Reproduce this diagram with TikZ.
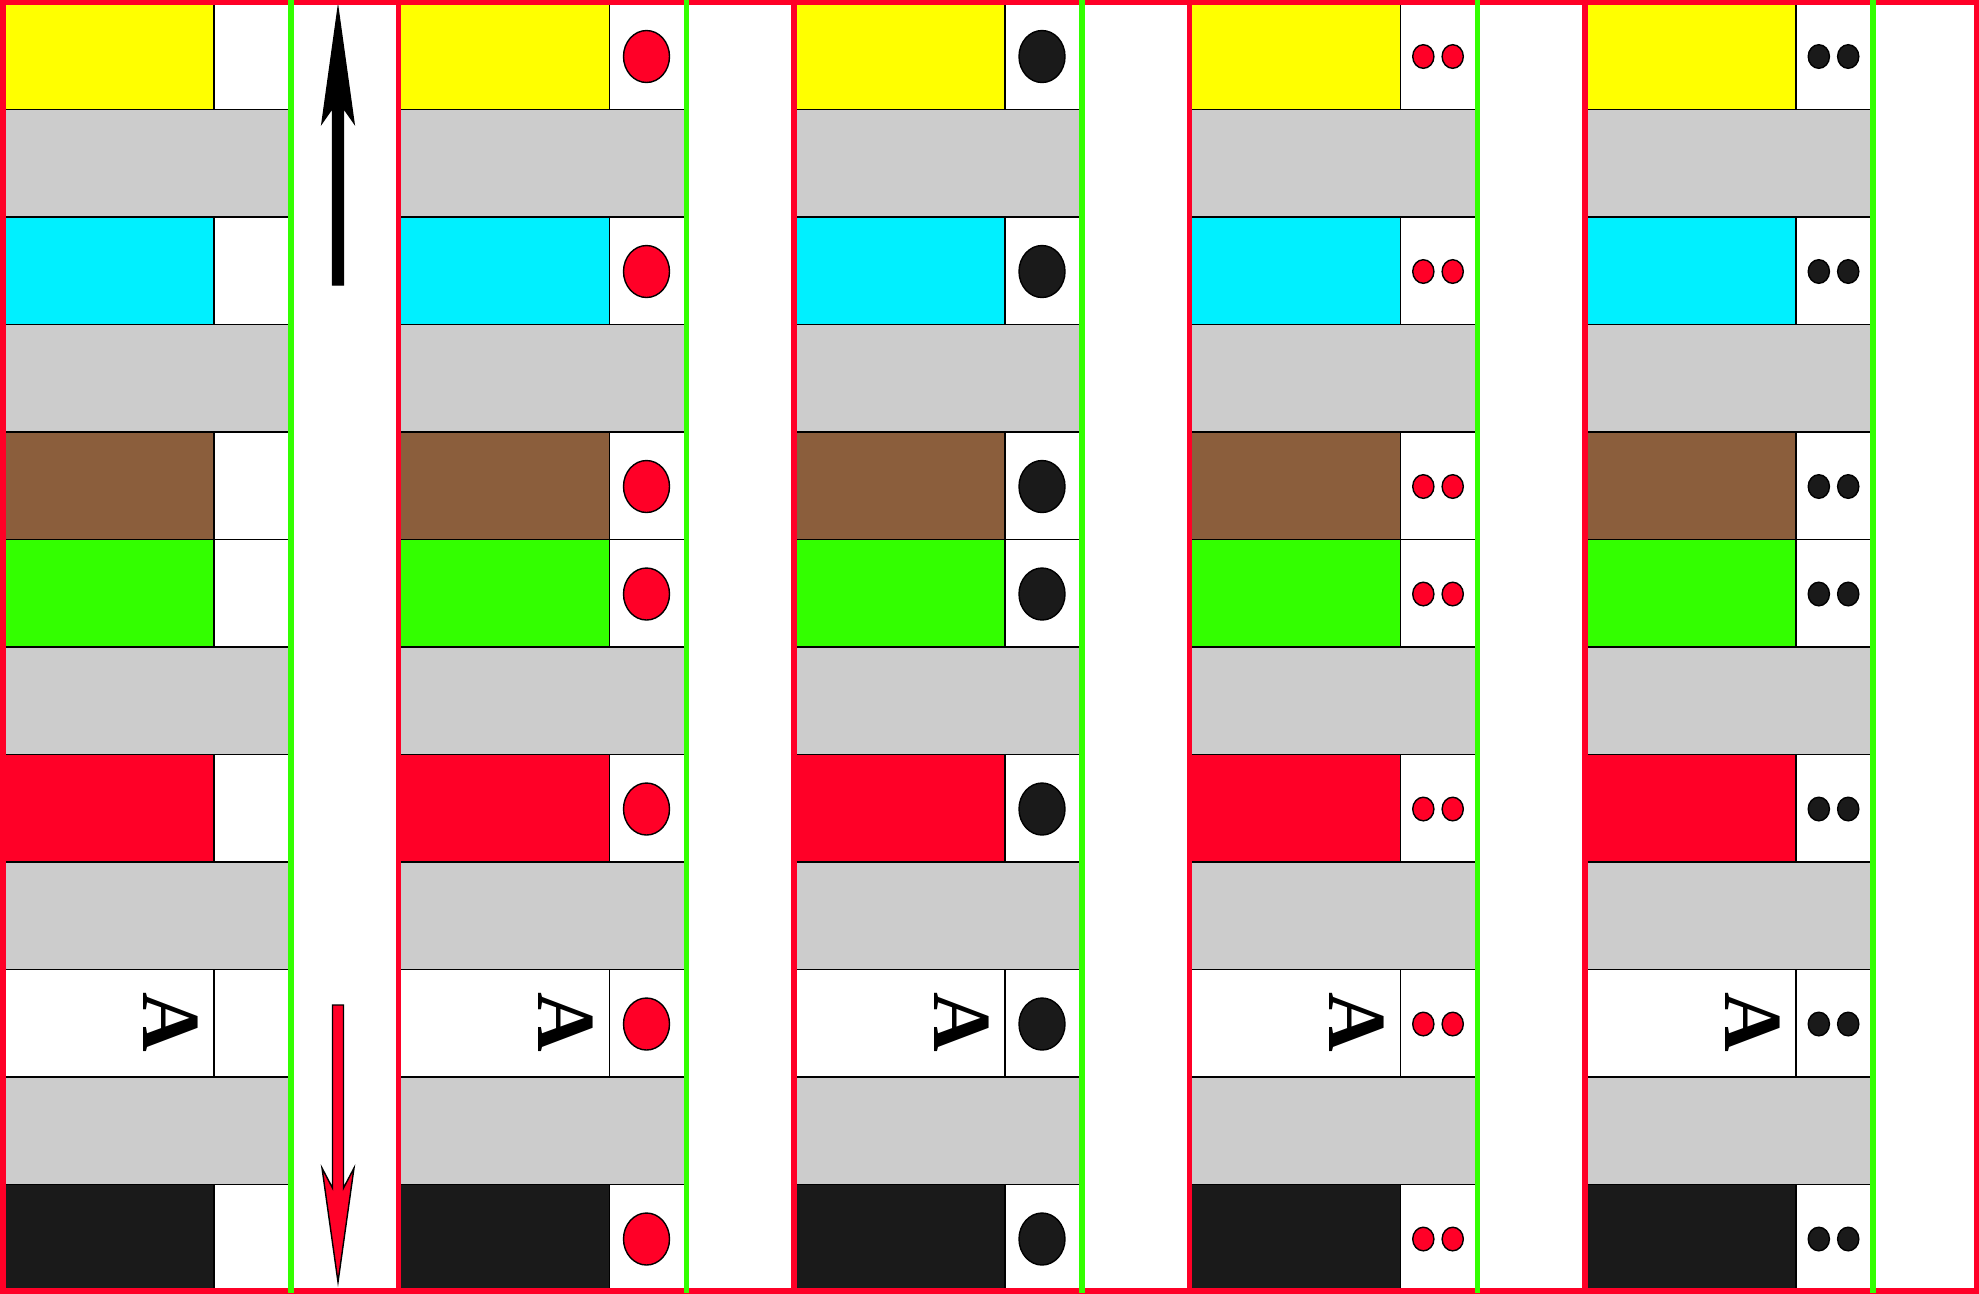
\documentclass[tikz,border=0pt]{standalone}
\usepackage{fontspec}
\newfontfamily\tilefont{Liberation Serif}
\usetikzlibrary{positioning}
\definecolor{panelred}{HTML}{FF0027}
\definecolor{lanegreen}{HTML}{33FF00}
\definecolor{rowgrey}{HTML}{CCCCCC}
\definecolor{tileyellow}{HTML}{FFFF00}
\definecolor{tilecyan}{HTML}{00F0FF}
\definecolor{tilebrown}{HTML}{8B5E3C}
\definecolor{tiledark}{HTML}{1A1A1A}

\begin{document}
\begin{tikzpicture}[x=0.01cm, y=-0.01cm,
  cell/.style={draw=black, line width=0.45pt},
  frame/.style={draw=panelred, line width=1.45pt},
  lane/.style={draw=lanegreen, line width=1.45pt},
  dot/.style={draw=black, line width=0.4pt},
  letter/.style={font=\tilefont\bfseries\fontsize{23.5}{24}\selectfont,
                 rotate=-90, inner sep=0pt}]
\useasboundingbox (0,0) rectangle (1979,1293);
\foreach \p in {0,...,4} {
  \foreach \r in {2,4,7,9,11}
    \filldraw[cell, fill=rowgrey] ({3+395.5*\p},{2+107.5*(\r-1)}) rectangle ({3+395.5*\p+288},{2+107.5*\r});
  \foreach \r/\c in {1/tileyellow,3/tilecyan,5/tilebrown,6/lanegreen,8/panelred,10/white,12/tiledark} {
    \filldraw[cell, fill=\c] ({3+395.5*\p},{2+107.5*(\r-1)}) rectangle ({3+395.5*\p+211},{2+107.5*\r});
    \filldraw[cell, fill=white] ({3+395.5*\p+211},{2+107.5*(\r-1)}) rectangle ({3+395.5*\p+288},{2+107.5*\r});
  }
  \node[letter] (a\p) at ({3+395.5*\p+167.5},1022.5) {A};
}
\foreach \p/\dc in {1/panelred,2/tiledark}
  \foreach \r in {1,3,5,6,8,10,12}
    \filldraw[dot, fill=\dc] ({3+395.5*\p+248},{2+107.5*\r-53}) ellipse [x radius=23, y radius=26];
\foreach \p/\dc in {3/panelred,4/tiledark}
  \foreach \r in {1,3,5,6,8,10,12}
    \foreach \s in {-14.7,14.7}
      \filldraw[dot, fill=\dc] ({3+395.5*\p+248.5+\s},{2+107.5*\r-53}) ellipse [x radius=10.6, y radius=11.8];
\filldraw[black, line width=0.4pt] (332.5,285) -- (332.5,108) -- (322,123) -- (338,8)
  -- (354,123) -- (343.5,108) -- (343.5,285) -- cycle;
\filldraw[fill=panelred, draw=black, line width=0.4pt] (332.5,1005) -- (332.5,1188) -- (322,1168)
  -- (338,1282) -- (354,1168) -- (343.5,1188) -- (343.5,1005) -- cycle;
\draw[frame] (3,2) rectangle (1977,1291);
\foreach \p in {1,...,4}
  \draw[frame] ({3+395.5*\p},0) -- ({3+395.5*\p},1293);
\foreach \p in {0,...,4}
  \draw[lane] ({3+395.5*\p+288},0) -- ({3+395.5*\p+288},1293);
\end{tikzpicture}
\end{document}
